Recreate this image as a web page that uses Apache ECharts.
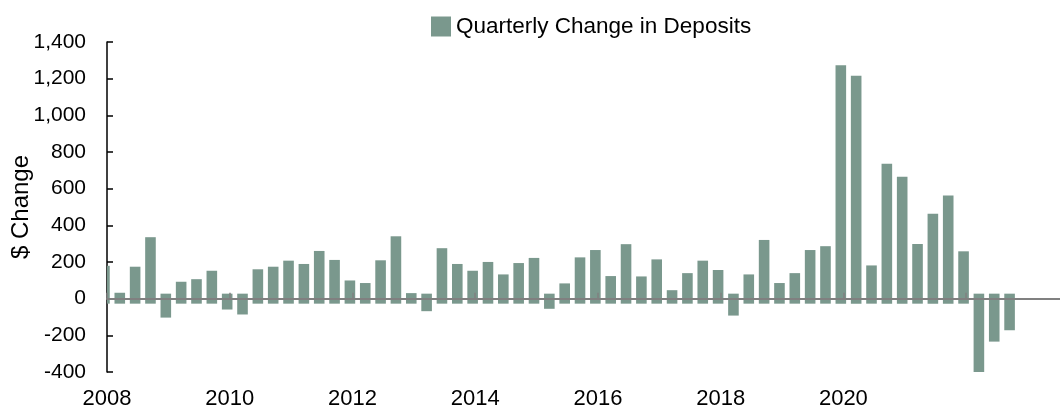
<!DOCTYPE html>
<html>
<head>
<meta charset="utf-8">
<script src="https://cdn.jsdelivr.net/npm/echarts@6/dist/echarts.min.js"></script>
<style>
html,body{margin:0;padding:0;background:#ffffff;}
#chart{width:1060px;height:408px;}
</style>
</head>
<body>
<div id="chart"></div>
<script>
// Quarter-end months (bars are placed mid-month on a date axis)
const quarters = [
  '2007-12','2008-03','2008-06','2008-09','2008-12','2009-03','2009-06','2009-09',
  '2009-12','2010-03','2010-06','2010-09','2010-12','2011-03','2011-06','2011-09',
  '2011-12','2012-03','2012-06','2012-09','2012-12','2013-03','2013-06','2013-09',
  '2013-12','2014-03','2014-06','2014-09','2014-12','2015-03','2015-06','2015-09',
  '2015-12','2016-03','2016-06','2016-09','2016-12','2017-03','2017-06','2017-09',
  '2017-12','2018-03','2018-06','2018-09','2018-12','2019-03','2019-06','2019-09',
  '2019-12','2020-03','2020-06','2020-09','2020-12','2021-03','2021-06','2021-09',
  '2021-12','2022-03','2022-06','2022-09'
];
// Quarterly change in deposits ($)
const deposits = [
  152, 5, 147, 308, -76, 65, 79, 125,
  -32, -59, 133, 147, 180, 162, 233, 184,
  72, 58, 182, 313, 3, -41, 248, 162,
  125, 173, 105, 167, 195, -28, 56, 198,
  238, 96, 270, 94, 187, 19, 112, 180,
  129, -65, 105, 293, 58, 112, 238, 259,
  1246, 1188, 154, 708, 638, 271, 436, 536,
  231, -373, -207, -145
];
const yearTicks = [2008, 2010, 2012, 2014, 2016, 2018, 2020, 2022];
const seriesName = 'Quarterly Change in Deposits';
const yAxisName = '$ Change';

const BAR = '#7a988d';
const ZERO = '#808080';
const FONT = '"Liberation Sans", Arial, sans-serif';

function toYear(q) {
  const [y, m] = q.split('-').map(Number);
  return y + (m - 0.5) / 12;
}
const points = quarters.map((q, i) => [toYear(q), deposits[i]]);

const chart = echarts.init(document.getElementById('chart'), null, { renderer: 'canvas' });
chart.setOption({
  animation: false,
  backgroundColor: '#ffffff',
  textStyle: { fontFamily: FONT, color: '#000' },
  legend: {
    left: 426, top: 10,
    itemWidth: 20, itemHeight: 20,
    itemGap: 0,
    icon: 'rect',
    data: [seriesName],
    textStyle: { fontFamily: FONT, fontSize: 22.5, color: '#000' }
  },
  grid: { left: 107, right: 0, top: 42, bottom: 36, containLabel: false, outerBoundsMode: 'none' },
  xAxis: [
    {
      type: 'value', min: 2008, max: 2023.53, interval: 2, position: 'bottom', z: 10,
      axisLine: { show: true, onZero: true, lineStyle: { color: ZERO, width: 2 } },
      axisTick: { show: true, inside: true, length: 6, customValues: yearTicks, lineStyle: { color: ZERO, width: 1.5 } },
      axisLabel: { show: false },
      splitLine: { show: false }
    },
    {
      type: 'value', min: 2008, max: 2023.53, interval: 2, position: 'bottom',
      axisLine: { show: false, onZero: false },
      axisTick: { show: false },
      splitLine: { show: false },
      axisLabel: {
        show: true, customValues: yearTicks, showMaxLabel: false,
        fontFamily: FONT, fontSize: 22, color: '#000', margin: 16,
        formatter: v => String(Math.round(v))
      }
    }
  ],
  yAxis: {
    type: 'value', min: -400, max: 1400, interval: 200,
    name: yAxisName, nameLocation: 'middle', nameGap: 74, nameRotate: 90,
    nameMoveOverlap: false,
    nameTextStyle: { fontFamily: FONT, fontSize: 24, color: '#000' },
    axisLine: { show: true, onZero: false, lineStyle: { color: '#000', width: 1.5 } },
    axisTick: { show: true, inside: true, length: 6, lineStyle: { color: '#000', width: 1.5 } },
    axisLabel: {
      fontFamily: FONT, fontSize: 21, color: '#000', margin: 21,
      formatter: v => v.toLocaleString('en-US')
    },
    splitLine: { show: false }
  },
  series: [{
    name: seriesName,
    type: 'custom',
    xAxisIndex: 0, yAxisIndex: 0,
    clip: true,
    itemStyle: { color: BAR },
    encode: { x: 0, y: 1 },
    data: points,
    renderItem: function (params, api) {
      const x = api.value(0), v = api.value(1);
      const base = api.coord([x, 0]);
      const end = api.coord([x, v]);
      const halfW = 5.3, ext = 5;
      const y0 = Math.min(base[1], end[1]) - ext;
      const y1 = Math.max(base[1], end[1]) + ext;
      return {
        type: 'rect',
        shape: { x: base[0] - halfW, y: y0, width: halfW * 2, height: y1 - y0 },
        style: { fill: BAR }
      };
    }
  }]
});
</script>
</body>
</html>
